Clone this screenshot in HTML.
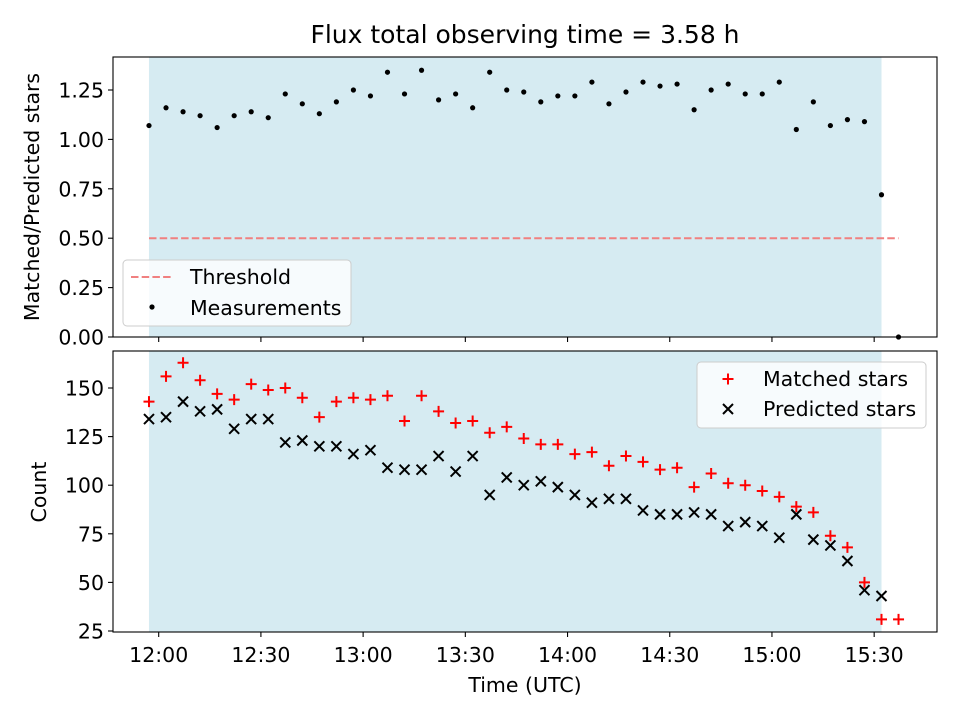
<!DOCTYPE html>
<html><head><meta charset="utf-8"><style>
body{margin:0;background:#fff}
svg{display:block;font-family:"DejaVu Sans","Liberation Sans",sans-serif}
</style></head><body>
<svg id="c" width="960" height="720" xmlns="http://www.w3.org/2000/svg"></svg>
<script>
const ratioValues=[1.07,1.16,1.14,1.12,1.06,1.12,1.14,1.11,1.23,1.18,1.13,1.19,1.25,1.22,1.34,1.23,1.35,1.20,1.23,1.16,1.34,1.25,1.24,1.19,1.22,1.22,1.29,1.18,1.24,1.29,1.27,1.28,1.15,1.25,1.28,1.23,1.23,1.29,1.05,1.19,1.07,1.10,1.09,0.72,0.00];
const matchedValues=[143,156,163,154,147,144,152,149,150,145,135,143,145,144,146,133,146,138,132,133,127,130,124,121,121,116,117,110,115,112,108,109,99,106,101,100,97,94,89,86,74,68,50,31,31];
const predictedValues=[134,135,143,138,139,129,134,134,122,123,120,120,116,118,109,108,108,115,107,115,95,104,100,102,99,95,91,93,93,87,85,85,86,85,79,81,79,73,85,72,69,61,46,43];
const timesMin=[-2.85,2.15,7.15,12.15,17.15,22.15,27.15,32.15,37.15,42.15,47.15,52.15,57.15,62.15,67.15,72.15,77.15,82.15,87.15,92.15,97.15,102.15,107.15,112.15,117.15,122.15,127.15,132.15,137.15,142.15,147.15,152.15,157.15,162.15,167.15,172.15,177.15,182.15,187.15,192.15,197.15,202.15,207.15,212.15,217.15];
const xTickLabels=["12:00","12:30","13:00","13:30","14:00","14:30","15:00","15:30"];
const xTickMinutes=[0,30,60,90,120,150,180,210];
const topYTicks=[0,0.25,0.5,0.75,1.0,1.25];
const botYTicks=[25,50,75,100,125,150];
const threshold=0.5;
const spanStart=-2.85, spanEnd=212.15, thresholdEnd=217.15;

const NS="http://www.w3.org/2000/svg";
const svg=document.getElementById('c');
function el(tag,attrs,parent,text){const e=document.createElementNS(NS,tag);for(const k in attrs)e.setAttribute(k,attrs[k]);if(text!==undefined)e.textContent=text;(parent||svg).appendChild(e);return e;}
const L=113,R=937,FS=20.5;
const x=m=>158.7+m*3.407;
const yTop=v=>337-v*197.6;
const yBot=v=>631-(v-25)*1.944;

let t=el('text',{x:525,y:43,'text-anchor':'middle','font-size':25},svg,'Flux total observing time = 3.58 h');


function panel(top,bottom,name){
  const g=el('g',{});
  const s=el('rect',{x:x(spanStart),y:top,width:x(spanEnd)-x(spanStart),height:bottom-top,fill:'#add8e6','fill-opacity':0.5},g);
  
  return g;
}
function frame(g,top,bottom){el('rect',{x:L,y:top,width:R-L,height:bottom-top,fill:'none',stroke:'#000','stroke-width':1.1},g);}
function xticks(g,bottom,labels){
  xTickMinutes.forEach((m,i)=>{
    el('line',{x1:x(m),x2:x(m),y1:bottom,y2:bottom+5,stroke:'#000','stroke-width':1.1},g);
    if(labels){const tl=el('text',{x:x(m),y:bottom+30,'text-anchor':'middle','font-size':FS},g,xTickLabels[i]);
      }
  });
}

const gt=panel(57,337,'ratio-panel');
const th=el('line',{x1:x(spanStart),x2:x(thresholdEnd),y1:yTop(threshold),y2:yTop(threshold),stroke:'#f08080','stroke-width':2,'stroke-dasharray':'7.5,3.2'},gt);

ratioValues.forEach((v,i)=>{const c=el('circle',{cx:x(timesMin[i]),cy:yTop(v),r:2.6,fill:'#000'},gt);
  });
topYTicks.forEach(v=>{el('line',{x1:L-5,x2:L,y1:yTop(v),y2:yTop(v),stroke:'#000','stroke-width':1.1},gt);
  const tl=el('text',{x:L-9,y:yTop(v)+7.5,'text-anchor':'end','font-size':FS},gt,v.toFixed(2));
  });
xticks(gt,337,false);
frame(gt,57,337);
let yt=el('text',{x:0,y:0,'text-anchor':'middle','font-size':FS,transform:'translate(39,197) rotate(-90)'},gt,'Matched/Predicted stars');

const lg=el('g',{});
el('rect',{x:123,y:260,width:228,height:66,rx:4,fill:'#fff','fill-opacity':0.8,stroke:'#ccc'},lg);
el('line',{x1:131,x2:173,y1:277,y2:277,stroke:'#f08080','stroke-width':2,'stroke-dasharray':'7.5,3.2'},lg);
el('text',{x:190,y:284,'font-size':FS},lg,'Threshold');
el('circle',{cx:152,cy:307,r:2.6,fill:'#000'},lg);
el('text',{x:190,y:315,'font-size':FS},lg,'Measurements');

const gb=panel(351,632,'count-panel');
predictedValues.forEach((v,i)=>{const cx=x(timesMin[i]),cy=yBot(v),d=5;
  const p=el('path',{d:`M${cx-d},${cy-d}L${cx+d},${cy+d}M${cx-d},${cy+d}L${cx+d},${cy-d}`,stroke:'#000','stroke-width':2},gb);
  });
matchedValues.forEach((v,i)=>{const cx=x(timesMin[i]),cy=yBot(v),d=5.5;
  const p=el('path',{d:`M${cx-d},${cy}L${cx+d},${cy}M${cx},${cy-d}L${cx},${cy+d}`,stroke:'#f00','stroke-width':2},gb);
  });
botYTicks.forEach(v=>{el('line',{x1:L-5,x2:L,y1:yBot(v),y2:yBot(v),stroke:'#000','stroke-width':1.1},gb);
  const tl=el('text',{x:L-9,y:yBot(v)+7.5,'text-anchor':'end','font-size':FS},gb,String(v));
  });
xticks(gb,632,true);
frame(gb,351,632);
yt=el('text',{x:0,y:0,'text-anchor':'middle','font-size':FS,transform:'translate(46,492) rotate(-90)'},gb,'Count');

let xt=el('text',{x:525,y:692,'text-anchor':'middle','font-size':FS},gb,'Time (UTC)');

const lb=el('g',{});
el('rect',{x:697,y:362,width:229,height:66,rx:4,fill:'#fff','fill-opacity':0.8,stroke:'#ccc'},lb);
el('path',{d:'M722.5,379L733.5,379M728,373.5L728,384.5',stroke:'#f00','stroke-width':2},lb);
el('text',{x:763,y:386,'font-size':FS},lb,'Matched stars');
el('path',{d:'M723,404L733,414M723,414L733,404',stroke:'#000','stroke-width':2},lb);
el('text',{x:763,y:416,'font-size':FS},lb,'Predicted stars');
</script>
</body></html>
